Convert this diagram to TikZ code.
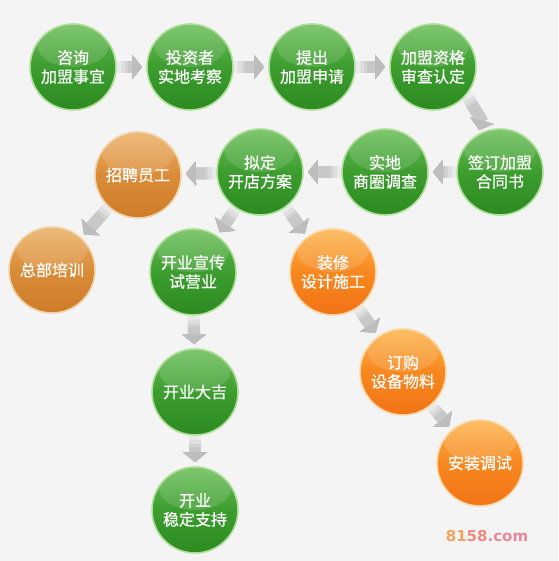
\documentclass[tikz,border=0pt]{standalone}
\usepackage{fontspec}
\newfontfamily\cjk[FakeBold=0.5]{Noto Sans CJK SC}
\newfontfamily\wmfont{DejaVu Sans Bold}
\usetikzlibrary{arrows.meta,backgrounds,calc}
\definecolor{bg}{HTML}{F4F4F4}
\definecolor{gtop}{HTML}{6CBF5A}
\definecolor{gmid}{HTML}{3D9D2F}
\definecolor{gbot}{HTML}{2C8A20}
\definecolor{gglow}{HTML}{AEDF98}
\definecolor{otop}{HTML}{FCB54E}
\definecolor{omid}{HTML}{F7881F}
\definecolor{obot}{HTML}{F27316}
\definecolor{oglow}{HTML}{F8D8A6}
\definecolor{btop}{HTML}{EBB066}
\definecolor{bmid}{HTML}{DA8C38}
\definecolor{bbot}{HTML}{CF7C2A}
\definecolor{bglow}{HTML}{EFD3AA}
\definecolor{arr1}{HTML}{EAEAEA}
\definecolor{arr2}{HTML}{DEDEDE}
\definecolor{arr3}{HTML}{D2D2D2}
\definecolor{arr4}{HTML}{C8C8C8}
\definecolor{arrhead}{HTML}{BDBDBD}
\definecolor{wmo}{HTML}{F2A25E}
\definecolor{wmp}{HTML}{EE8A86}
\definecolor{wmq}{HTML}{E8899A}
\tikzset{
  ball/.style={circle, minimum size=86pt, inner sep=0pt, text=white, align=center,
    font=\cjk\fontsize{16}{19}\selectfont, line width=1.6pt,
    path picture={\fill[white,opacity=0.13]
      ($(path picture bounding box.center)+(0pt,22pt)$) ellipse [x radius=36pt, y radius=22pt];}},
  gball/.style={ball, draw=gglow, top color=gtop, bottom color=gbot, middle color=gmid},
  oball/.style={ball, draw=oglow, top color=otop, bottom color=obot, middle color=omid},
  bball/.style={ball, draw=bglow, top color=btop, bottom color=bbot, middle color=bmid},
  ar/.style={line width=12pt, -{Triangle[width=24pt,length=10pt,fill=arrhead,color=arrhead]}, shorten >=4pt},
}
\newcommand\flow[1]{%
  \draw[ar, draw=arr1, shorten <=0pt] #1;
  \draw[ar, draw=arr2, shorten <=4pt] #1;
  \draw[ar, draw=arr3, shorten <=8pt] #1;
  \draw[ar, draw=arr4, shorten <=11pt] #1;}
\begin{document}
\begin{tikzpicture}[x=1pt,y=-1pt]
\useasboundingbox (0,0) rectangle (558,561);
\begin{scope}[on background layer]
  \fill[bg] (0,0) rectangle (558,561);
\end{scope}
% nodes
\node[gball] (zx) at (73,67) {咨询\\加盟事宜};
\node[gball] (tz) at (190,67) {投资者\\实地考察};
\node[gball] (tc) at (312,67) {提出\\加盟申请};
\node[gball] (jm) at (433,67) {加盟资格\\审查认定};
\node[gball] (qd) at (500,172) {签订加盟\\合同书};
\node[gball] (sd) at (385,172) {实地\\商圈调查};
\node[gball] (nd) at (260,172) {拟定\\开店方案};
\node[bball] (zp) at (138,175) {招聘员工};
\node[bball] (zb) at (52,270) {总部培训};
\node[gball] (xc) at (193,272) {开业宣传\\试营业};
\node[oball] (zsx) at (333,272) {装修\\设计施工};
\node[oball] (dg) at (403,372) {订购\\设备物料};
\node[oball] (az) at (480,463) {安装调试};
\node[gball] (dj) at (195,392) {开业大吉};
\node[gball] (wd) at (195,510) {开业\\稳定支持};
% watermark
\node[font=\wmfont\fontsize{15}{15}\selectfont, inner sep=0pt] (wm) at (487,536)
  {\textcolor{wmo}{81}\textcolor{wmp}{58}\textcolor{wmq}{.com}};
% connectors
\begin{scope}[on background layer]
\flow{(zx) -- (tz)}
\flow{(tz) -- (tc)}
\flow{(tc) -- (jm)}
\flow{(jm.-40) .. controls +(8,14) and +(4,-14) .. (qd.120)}
\flow{(qd) -- (sd)}
\flow{(sd) -- (nd)}
\flow{(nd) -- (zp)}
\flow{(zp) -- (zb)}
\flow{(nd) -- (xc)}
\flow{(nd) -- (zsx)}
\flow{(zsx) -- (dg)}
\flow{(dg) -- (az)}
\flow{(xc) -- (dj)}
\flow{(dj) -- (wd)}
\end{scope}
\end{tikzpicture}
\end{document}
